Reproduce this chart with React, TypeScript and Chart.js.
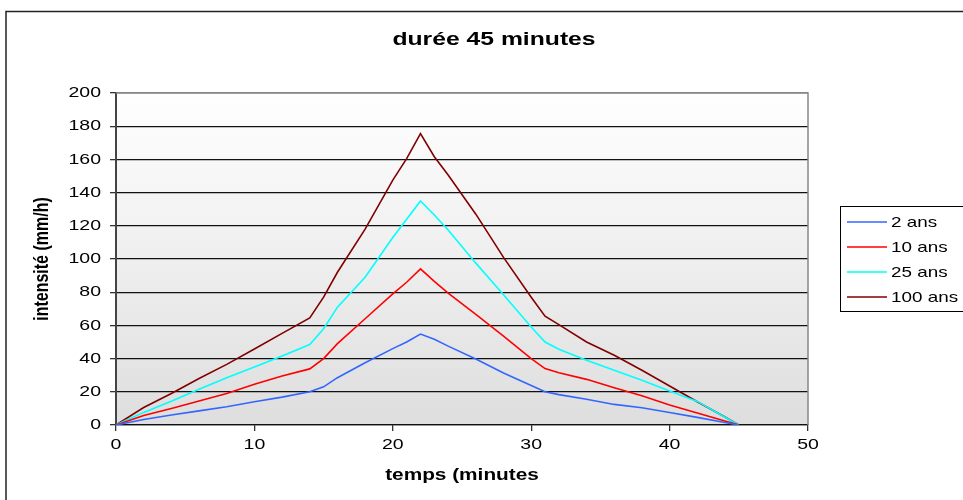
import { useEffect, useRef } from "react";
import { Chart, registerables } from "chart.js";

Chart.register(...registerables);

// Time axis (minutes) and rainfall intensity (mm/h) for each return period
const times = [0, 2, 4, 6, 8, 10, 12, 14, 15, 16, 18, 20, 21, 22, 23, 24, 26, 28, 30, 31, 32, 34, 36, 38, 40, 42, 44, 45];
const ans2 = [0, 3.3, 6, 8.5, 11, 14, 16.8, 20, 23, 28.5, 37.5, 46, 50, 54.8, 51.6, 47.5, 39.8, 31.3, 23.8, 20, 18.3, 15.5, 12.4, 10.4, 7.5, 4.6, 1.5, 0];
const ans10 = [0, 5.7, 10, 14.5, 19, 24.5, 29.5, 33.8, 40, 49, 64, 79, 86, 94, 86.5, 79.5, 66.7, 53.5, 40, 34, 31.5, 27.5, 22.5, 17.6, 12, 7.2, 2.4, 0];
const ans25 = [0, 7.6, 14.3, 21.5, 28.5, 35, 41.5, 48.5, 58, 71, 89, 113, 124, 135, 126.5, 117.5, 97.5, 78.5, 59, 50, 45.6, 39, 33, 27, 20.5, 14.2, 4.7, 0];
const ans100 = [0, 10.5, 19, 28, 36.5, 45.8, 55.2, 64.5, 77, 92, 118, 147.5, 160.5, 175.5, 161.6, 150.6, 127, 101, 77, 65.5, 60.5, 50, 42, 33, 23.5, 14, 4.8, 0];

const seriesLabels = ["2 ans", "10 ans", "25 ans", "100 ans"];
const seriesValues = [ans2, ans10, ans25, ans100];
const seriesColors = ["#3366FF", "#FF0000", "#00FFFF", "#800000"];

const chartTitle = "durée 45 minutes";
const xTitle = "temps (minutes";
const yTitle = "intensité (mm/h)";
const xMin = 0, xMax = 50, xStep = 10;
const yMin = 0, yMax = 200, yStep = 20;

const FONT = "'Liberation Sans', Arial, Helvetica, sans-serif";
// Text in this chart is set slightly wide
const TEXT_STRETCH = 1.3;

function widenText(ctx: CanvasRenderingContext2D) {
  const orig = ctx.fillText;
  (ctx as any).fillText = function (text: string, x: number, y: number) {
    const m = ctx.getTransform();
    ctx.save();
    ctx.translate(x, y);
    if (Math.abs(m.b) > 1e-6) ctx.scale(1, TEXT_STRETCH);
    else ctx.scale(TEXT_STRETCH, 1);
    orig.call(ctx, text, 0, 0);
    ctx.restore();
  };
}

const framePlugin = {
  id: "frame",
  beforeDraw(chart: any) {
    const { ctx, chartArea: a } = chart;
    ctx.save();
    // outer chart border
    ctx.strokeStyle = "#222";
    ctx.lineWidth = 1.5;
    ctx.strokeRect(6, 11.5, 1100, 700);
    // plot area background
    const g = ctx.createLinearGradient(0, a.top, 0, a.bottom);
    g.addColorStop(0, "#ffffff");
    g.addColorStop(1, "#dedede");
    ctx.fillStyle = g;
    ctx.fillRect(a.left, a.top, a.right - a.left, a.bottom - a.top);
    ctx.restore();
  },
  beforeDatasetsDraw(chart: any) {
    const { ctx, chartArea: a } = chart;
    ctx.save();
    ctx.strokeStyle = "#888";
    ctx.lineWidth = 1.5;
    ctx.beginPath();
    ctx.moveTo(a.left, a.top);
    ctx.lineTo(a.right, a.top);
    ctx.lineTo(a.right, a.bottom);
    ctx.stroke();
    ctx.restore();
  },
  afterDraw(chart: any) {
    const { ctx } = chart;
    ctx.save();
    // title
    ctx.fillStyle = "#000";
    ctx.font = `bold 19px ${FONT}`;
    ctx.textAlign = "center";
    ctx.textBaseline = "middle";
    ctx.fillText(chartTitle, 494, 40);
    // legend
    const lx = 840.5, ly = 206.5;
    ctx.strokeStyle = "#000";
    ctx.lineWidth = 1;
    ctx.strokeRect(lx, ly, 160, 105);
    ctx.font = `14.5px ${FONT}`;
    ctx.textAlign = "left";
    chart.data.datasets.forEach((ds: any, i: number) => {
      const y = 222 + i * 25;
      ctx.strokeStyle = ds.borderColor;
      ctx.lineWidth = 1.6;
      ctx.beginPath();
      ctx.moveTo(847, y);
      ctx.lineTo(887, y);
      ctx.stroke();
      ctx.fillStyle = "#000";
      ctx.fillText(ds.label, 891, y + 1);
    });
    ctx.restore();
  },
};

export default function App() {
  const ref = useRef<HTMLCanvasElement>(null);

  useEffect(() => {
    const canvas = ref.current!;
    const ctx = canvas.getContext("2d")!;
    widenText(ctx);
    const chart = new Chart(ctx, {
      type: "line",
      data: {
        datasets: seriesLabels.map((label, i) => ({
          label,
          data: times.map((t, j) => ({ x: t, y: seriesValues[i][j] })),
          borderColor: seriesColors[i],
          backgroundColor: seriesColors[i],
          borderWidth: 1.6,
          pointRadius: 0,
          tension: 0,
          fill: false,
        })),
      },
      options: {
        responsive: false,
        animation: false,
        devicePixelRatio: 1,
        layout: { padding: { left: 0, top: 93, right: 155, bottom: 0 } },
        plugins: { legend: { display: false }, title: { display: false }, tooltip: { enabled: false } },
        scales: {
          x: {
            type: "linear",
            min: xMin,
            max: xMax,
            ticks: { stepSize: xStep, color: "#000", font: { family: FONT, size: 15 }, padding: 5, maxRotation: 0 },
            grid: { drawOnChartArea: false, tickLength: 6, tickColor: "#333", lineWidth: 1.3 },
            border: { color: "#111", width: 1.3 },
            title: { display: true, text: xTitle, color: "#000", font: { family: FONT, size: 16, weight: "bold" }, padding: { top: 0, bottom: 14.4 } },
            afterFit(scale: any) { scale.height = 75; },
          },
          y: {
            min: yMin,
            max: yMax,
            ticks: { stepSize: yStep, color: "#000", font: { family: FONT, size: 15 }, padding: 9 },
            grid: {
              color: (c: any) => (c.tick && c.tick.value === yMax ? "#888" : "#111"),
              lineWidth: 1.3,
              tickLength: 6,
              tickColor: "#333",
            },
            border: { color: "#444", width: 2 },
            title: { display: true, text: yTitle, color: "#000", font: { family: FONT, size: 16, weight: "bold" }, padding: { top: 32.4, bottom: 0 } },
            afterFit(scale: any) { scale.width = 116; },
          },
        },
      },
      plugins: [framePlugin],
    });
    return () => chart.destroy();
  }, []);

  return (
    <div style={{ position: "absolute", left: 0, top: 0, width: 963, height: 500, background: "#fff" }}>
      <canvas ref={ref} width={963} height={500} style={{ width: 963, height: 500, display: "block" }} />
    </div>
  );
}
